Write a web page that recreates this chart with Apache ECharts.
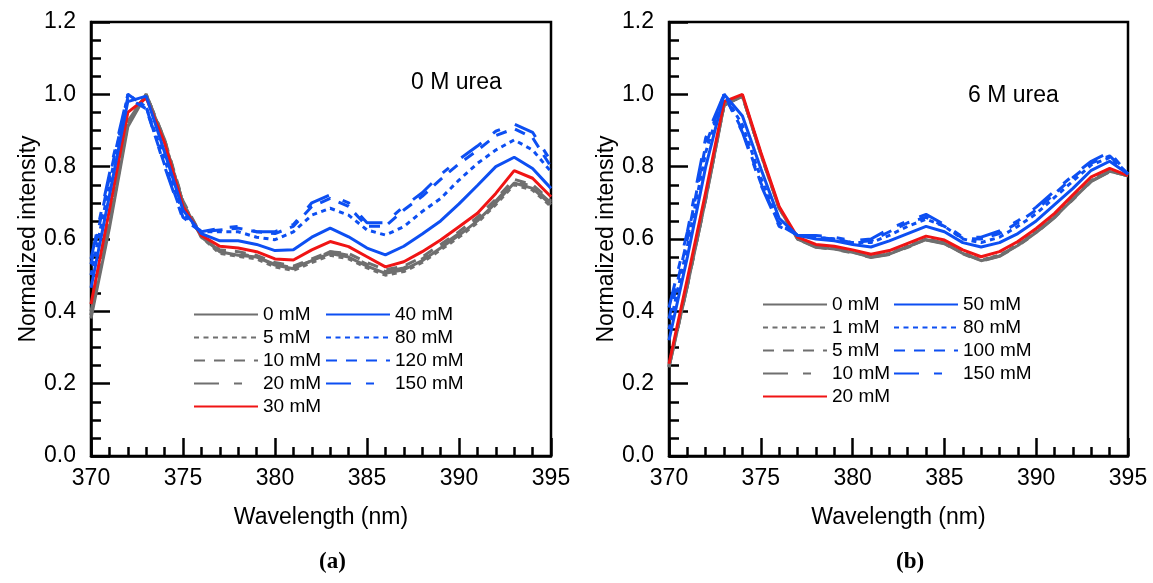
<!DOCTYPE html>
<html>
<head>
<meta charset="utf-8">
<script src="https://cdn.jsdelivr.net/npm/echarts@6/dist/echarts.min.js"></script>
<style>html,body{margin:0;padding:0;background:#fff}#c{width:1153px;height:583px}</style>
</head>
<body>
<div id="c"></div>
<script>
// ---------- data ----------
const wavelengths = [370,371,372,373,374,375,376,377,378,379,380,381,382,383,384,385,386,387,388,389,390,391,392,393,394,395];
const xTicks = [370,375,380,385,390,395];
const yTicks = [0.0,0.2,0.4,0.6,0.8,1.0,1.2];

// Panel (a): 0 M urea
const a_0mM   = [0.38,0.63,0.91,1.00,0.87,0.70,0.605,0.565,0.555,0.55,0.528,0.518,0.54,0.56,0.55,0.525,0.505,0.515,0.54,0.575,0.61,0.65,0.70,0.755,0.74,0.695];
const a_5mM   = [0.39,0.64,0.92,1.00,0.87,0.70,0.605,0.56,0.552,0.545,0.523,0.513,0.535,0.555,0.545,0.52,0.50,0.51,0.535,0.57,0.605,0.645,0.695,0.75,0.735,0.69];
const a_10mM  = [0.39,0.64,0.92,1.00,0.875,0.705,0.61,0.57,0.565,0.555,0.535,0.525,0.545,0.565,0.56,0.535,0.515,0.525,0.55,0.585,0.62,0.66,0.71,0.765,0.75,0.705];
const a_20mM  = [0.40,0.645,0.925,1.00,0.875,0.70,0.61,0.565,0.56,0.55,0.53,0.52,0.54,0.565,0.555,0.53,0.51,0.52,0.545,0.58,0.615,0.655,0.705,0.76,0.745,0.70];
const a_30mM  = [0.42,0.68,0.95,0.99,0.865,0.69,0.61,0.58,0.575,0.565,0.545,0.542,0.57,0.593,0.579,0.551,0.523,0.537,0.565,0.597,0.634,0.671,0.726,0.789,0.768,0.717];
const a_40mM  = [0.465,0.72,0.98,0.995,0.84,0.68,0.615,0.595,0.595,0.585,0.568,0.57,0.605,0.63,0.606,0.575,0.556,0.58,0.614,0.65,0.697,0.748,0.80,0.826,0.795,0.74];
const a_80mM  = [0.50,0.75,1.00,0.965,0.82,0.67,0.62,0.62,0.62,0.605,0.598,0.62,0.666,0.685,0.666,0.625,0.611,0.634,0.676,0.712,0.763,0.809,0.846,0.874,0.846,0.786];
const a_120mM = [0.53,0.77,0.99,0.96,0.805,0.66,0.62,0.625,0.63,0.62,0.615,0.635,0.69,0.712,0.69,0.635,0.635,0.68,0.718,0.765,0.808,0.845,0.886,0.905,0.88,0.80];
const a_150mM = [0.545,0.78,1.00,0.965,0.80,0.655,0.62,0.63,0.635,0.62,0.62,0.64,0.70,0.722,0.70,0.645,0.645,0.69,0.728,0.778,0.82,0.857,0.898,0.918,0.895,0.815];

// Panel (b): 6 M urea
const b_0mM   = [0.245,0.47,0.71,0.97,0.995,0.835,0.685,0.60,0.578,0.572,0.563,0.55,0.558,0.578,0.598,0.588,0.56,0.54,0.553,0.582,0.618,0.66,0.71,0.76,0.787,0.775];
const b_1mM   = [0.25,0.475,0.715,0.972,0.995,0.835,0.685,0.60,0.58,0.574,0.565,0.552,0.56,0.58,0.60,0.59,0.562,0.542,0.555,0.585,0.62,0.662,0.712,0.762,0.79,0.775];
const b_5mM   = [0.248,0.472,0.712,0.97,0.995,0.836,0.686,0.601,0.579,0.573,0.564,0.551,0.559,0.579,0.599,0.589,0.561,0.541,0.554,0.583,0.619,0.661,0.711,0.761,0.788,0.775];
const b_10mM  = [0.246,0.47,0.71,0.97,0.995,0.835,0.685,0.60,0.577,0.571,0.562,0.549,0.557,0.577,0.597,0.587,0.559,0.539,0.552,0.581,0.617,0.659,0.709,0.759,0.786,0.775];
const b_20mM  = [0.255,0.49,0.73,0.98,1.00,0.84,0.69,0.605,0.585,0.58,0.57,0.558,0.568,0.588,0.608,0.597,0.57,0.551,0.565,0.593,0.629,0.671,0.722,0.772,0.795,0.775];
const b_50mM  = [0.32,0.55,0.80,1.00,0.94,0.795,0.657,0.61,0.60,0.595,0.585,0.578,0.595,0.615,0.635,0.62,0.59,0.578,0.59,0.615,0.65,0.695,0.74,0.79,0.815,0.78];
const b_80mM  = [0.35,0.58,0.84,1.00,0.915,0.77,0.645,0.61,0.605,0.60,0.59,0.59,0.61,0.635,0.655,0.635,0.60,0.59,0.605,0.635,0.67,0.715,0.76,0.805,0.825,0.78];
const b_100mM = [0.38,0.60,0.86,1.00,0.90,0.755,0.64,0.61,0.605,0.60,0.59,0.595,0.62,0.645,0.66,0.635,0.602,0.60,0.615,0.645,0.68,0.725,0.77,0.81,0.83,0.78];
const b_150mM = [0.41,0.62,0.88,1.00,0.895,0.75,0.635,0.61,0.61,0.605,0.595,0.60,0.628,0.65,0.668,0.64,0.605,0.605,0.622,0.65,0.688,0.733,0.775,0.815,0.84,0.78];

const panelA = [
  ['0 mM', a_0mM, 'gray', 'solid'], ['5 mM', a_5mM, 'gray', 'dot'], ['10 mM', a_10mM, 'gray', 'dash'],
  ['20 mM', a_20mM, 'gray', 'dashdot'], ['30 mM', a_30mM, 'red', 'solid'], ['40 mM', a_40mM, 'blue', 'solid'],
  ['80 mM', a_80mM, 'blue', 'dot'], ['120 mM', a_120mM, 'blue', 'dash'], ['150 mM', a_150mM, 'blue', 'dashdot']
];
const panelB = [
  ['0 mM', b_0mM, 'gray', 'solid'], ['1 mM', b_1mM, 'gray', 'dot'], ['5 mM', b_5mM, 'gray', 'dash'],
  ['10 mM', b_10mM, 'gray', 'dashdot'], ['20 mM', b_20mM, 'red', 'solid'], ['50 mM', b_50mM, 'blue', 'solid'],
  ['80 mM', b_80mM, 'blue', 'dot'], ['100 mM', b_100mM, 'blue', 'dash'], ['150 mM', b_150mM, 'blue', 'dashdot']
];

// ---------- styles ----------
const COLORS = {gray: '#6f6f6f', red: '#f01414', blue: '#0d4ff2'};
const DASH = {solid: 'solid', dot: [5, 4.5], dash: [11, 9], dashdot: [25, 15, 8, 16]};
const FONT = 'Arial, "Liberation Sans", sans-serif';

function makeSeries(list, prefix, idx) {
  return list.map(([name, vals, col, dash]) => ({
    type: 'line', name: prefix + '|' + name, xAxisIndex: idx, yAxisIndex: idx,
    symbol: 'circle', symbolSize: 1, showSymbol: false, silent: true, animation: false,
    lineStyle: {color: COLORS[col], width: 3, type: DASH[dash]},
    itemStyle: {color: COLORS[col]},
    data: wavelengths.map((w, i) => [w, vals[i]])
  }));
}

function xAxis(idx) {
  return {
    gridIndex: idx, type: 'value', min: xTicks[0], max: xTicks[xTicks.length - 1], interval: 5,
    axisLine: {show: true, onZero: false, lineStyle: {color: '#000', width: 2.5}},
    axisTick: {show: true, inside: true, length: 18, lineStyle: {color: '#000', width: 2.5}},
    minorTick: {show: true, splitNumber: 5, length: 9, lineStyle: {color: '#000', width: 2.5}},
    splitLine: {show: false}, minorSplitLine: {show: false},
    axisLabel: {fontSize: 23, color: '#000', margin: 11, fontFamily: FONT},
    name: 'Wavelength (nm)', nameLocation: 'middle', nameGap: 50,
    nameTextStyle: {fontSize: 23, color: '#000', fontFamily: FONT}
  };
}
function yAxis(idx) {
  return {
    gridIndex: idx, type: 'value', min: yTicks[0], max: yTicks[yTicks.length - 1], interval: 0.2,
    axisLine: {show: true, onZero: false, lineStyle: {color: '#000', width: 2.5}},
    axisTick: {show: true, inside: true, length: 19, lineStyle: {color: '#000', width: 2.5}},
    minorTick: {show: true, splitNumber: 4, length: 10, lineStyle: {color: '#000', width: 2.5}},
    splitLine: {show: false}, minorSplitLine: {show: false},
    axisLabel: {fontSize: 23, color: '#000', margin: 15, fontFamily: FONT, formatter: v => v.toFixed(1)},
    name: 'Normalized intensity', nameLocation: 'middle', nameGap: 50,
    nameTextStyle: {fontSize: 23, color: '#000', fontFamily: FONT}
  };
}
function legend(prefix, names, left, top) {
  return {
    orient: 'vertical', left: left, top: top, padding: 0, itemGap: 0,
    itemWidth: 64, itemHeight: 1, selectedMode: false,
    itemStyle: {opacity: 0},
    data: names.map(n => prefix + '|' + n),
    formatter: n => n.split('|')[1],
    textStyle: {fontSize: 19, color: '#000', fontFamily: FONT, lineHeight: 23}
  };
}

const chart = echarts.init(document.getElementById('c'), null, {renderer: 'canvas'});
chart.setOption({
  backgroundColor: '#fff',
  animation: false,
  grid: [
    {left: 91, top: 22, width: 460, height: 434, show: true, borderColor: '#000', borderWidth: 2.5, backgroundColor: 'transparent'},
    {left: 669, top: 22, width: 459, height: 434, show: true, borderColor: '#000', borderWidth: 2.5, backgroundColor: 'transparent'}
  ],
  xAxis: [xAxis(0), xAxis(1)],
  yAxis: [yAxis(0), yAxis(1)],
  legend: [
    legend('a', panelA.slice(0, 5).map(d => d[0]), 193, 303),
    legend('a', panelA.slice(5).map(d => d[0]), 325, 303),
    legend('b', panelB.slice(0, 5).map(d => d[0]), 762, 293),
    legend('b', panelB.slice(5).map(d => d[0]), 893, 293)
  ],
  title: [
    {text: '0 M urea', left: 411, top: 71, padding: 0, textStyle: {fontSize: 23, fontWeight: 'normal', color: '#000', fontFamily: FONT}},
    {text: '6 M urea', left: 968, top: 84, padding: 0, textStyle: {fontSize: 23, fontWeight: 'normal', color: '#000', fontFamily: FONT}},
    {text: '{n|(}{b|a}{n|)}', left: 319, top: 551, padding: 0, textStyle: {rich: {
      n: {fontSize: 23, color: '#000', fontFamily: '"Liberation Serif", serif'},
      b: {fontSize: 23, color: '#000', fontWeight: 'bold', fontFamily: '"Liberation Serif", serif'}}}},
    {text: '{n|(}{b|b}{n|)}', left: 896, top: 551, padding: 0, textStyle: {rich: {
      n: {fontSize: 23, color: '#000', fontFamily: '"Liberation Serif", serif'},
      b: {fontSize: 23, color: '#000', fontWeight: 'bold', fontFamily: '"Liberation Serif", serif'}}}}
  ],
  series: [...makeSeries(panelA, 'a', 0), ...makeSeries(panelB, 'b', 1)]
});
</script>
</body>
</html>
